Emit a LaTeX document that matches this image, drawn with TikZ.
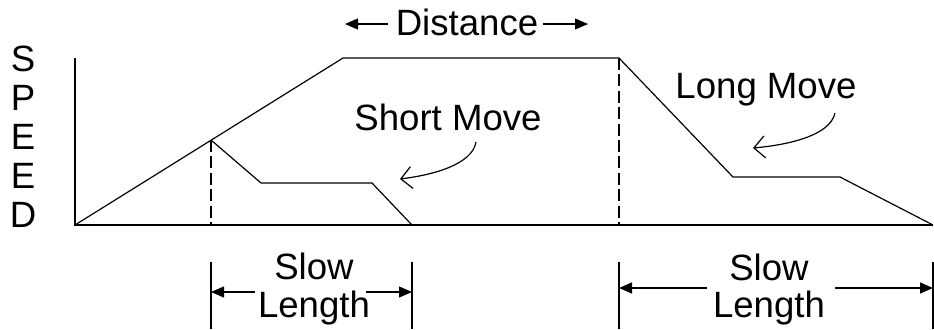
\documentclass[tikz,border=0pt]{standalone}
\usepackage{fontspec}
\setmainfont{Liberation Sans}
\usetikzlibrary{arrows.meta,positioning}
\begin{document}
\begin{tikzpicture}[x=0.5pt,y=-0.5pt,line width=0.6pt,every node/.style={inner sep=0pt,font=\fontsize{18.3}{19.5}\selectfont},lbl/.style={anchor=base},dim/.style={-{Triangle[length=6.5pt,width=5.5pt]}},callout/.style={-{Straight Barb[length=5.5pt,width=11pt]}},guide/.style={dash pattern=on 6pt off 2.2pt}]
\useasboundingbox (0,0) rectangle (934,329);
\node (speed) at (23,137) [align=center]{S\\P\\E\\E\\D};
\coordinate (o) at (75,225);
\coordinate (ytop) at (75,58);
\coordinate (xend) at (933,225);
\coordinate (up) at (343,58);
\coordinate (down) at (619,58);
\coordinate (lslow) at (733,177);
\coordinate (lslowend) at (840,177);
\coordinate (peak) at (211,140);
\coordinate (sslow) at (261,183);
\coordinate (sslowend) at (372,183);
\coordinate (sstop) at (412,225);
\coordinate (peakfoot) at (211,225);
\coordinate (downfoot) at (619,225);
\draw (ytop) -- (o) -- (xend);
\draw (o) -- (up) -- (down) -- (lslow) -- (lslowend) -- (xend);
\draw (peak) -- (sslow) -- (sslowend) -- (sstop);
\draw[guide] (peak) -- (peakfoot);
\draw[guide] (down) -- (downfoot);
\node (dist) at (467,35) [lbl]{Distance};
\coordinate (dl) at (388,24);
\coordinate (dtipl) at (345,24);
\coordinate (dr) at (543,24);
\coordinate (dtipr) at (588,24);
\draw[dim] (dl) -- (dtipl);
\draw[dim] (dr) -- (dtipr);
\node (short) at (448,130) [lbl]{Short Move};
\node (long) at (766,98) [lbl]{Long Move};
\coordinate (smfrom) at (476,142);
\coordinate (smto) at (400,179);
\coordinate (lmfrom) at (835,113);
\coordinate (lmto) at (753,148);
\draw[callout] (smfrom) .. controls (472,165) and (432,175) .. (smto);
\draw[callout] (lmfrom) .. controls (830,136) and (787,145) .. (lmto);
\coordinate (t1a) at (211,262);
\coordinate (t1b) at (211,329);
\coordinate (t2a) at (412,262);
\coordinate (t2b) at (412,329);
\coordinate (t3a) at (619,262);
\coordinate (t3b) at (619,329);
\coordinate (t4a) at (933,262);
\coordinate (t4b) at (933,329);
\draw (t1a) -- (t1b);
\draw (t2a) -- (t2b);
\draw (t3a) -- (t3b);
\draw (t4a) -- (t4b);
\node (slowA) at (314,279) [lbl]{Slow};
\node (lenA) at (314,317) [lbl]{Length};
\node (slowB) at (769,280) [lbl]{Slow};
\node (lenB) at (769,317) [lbl]{Length};
\coordinate (a1) at (255,292);
\coordinate (a1tip) at (211,292);
\coordinate (a2) at (366,292);
\coordinate (a2tip) at (412,292);
\coordinate (b1) at (707,288);
\coordinate (b1tip) at (619,288);
\coordinate (b2) at (835,288);
\coordinate (b2tip) at (933,288);
\draw[dim] (a1) -- (a1tip);
\draw[dim] (a2) -- (a2tip);
\draw[dim] (b1) -- (b1tip);
\draw[dim] (b2) -- (b2tip);
\end{tikzpicture}
\end{document}
